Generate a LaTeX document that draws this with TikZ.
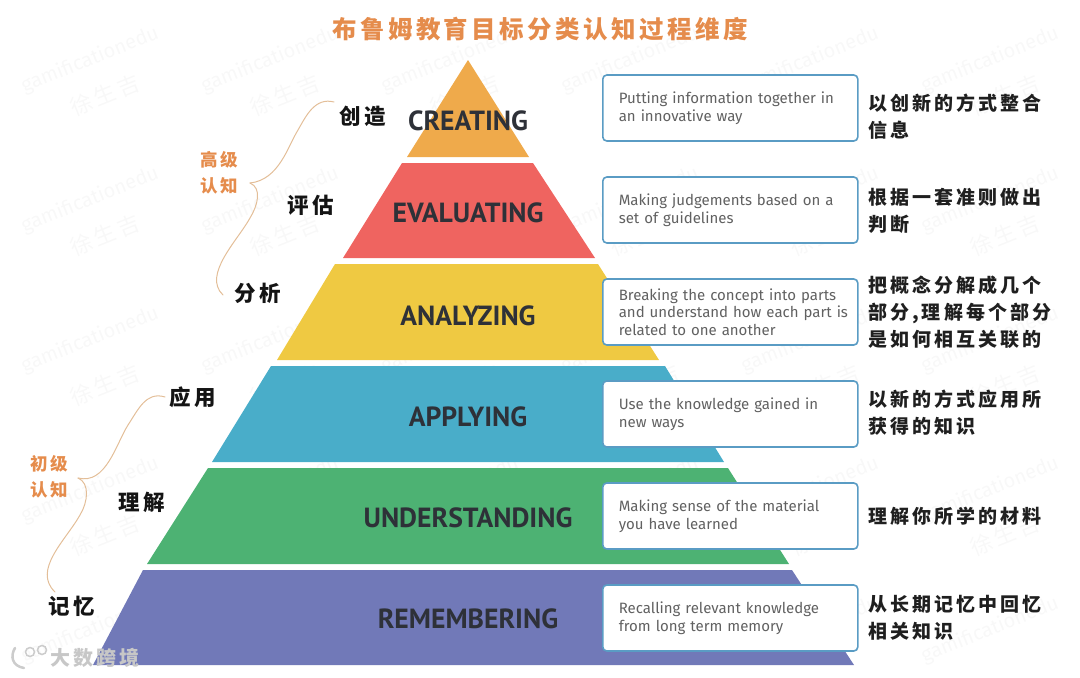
\documentclass[tikz,border=0pt]{standalone}
\usepackage{fontspec}
\setmainfont{Fira Sans}
\newfontfamily\labelfont{PT Sans}
\newfontfamily\cjk[LetterSpace=14]{Noto Sans CJK SC}
\newfontfamily\cjkwide[LetterSpace=16]{Noto Sans CJK SC}
\definecolor{createcol}{HTML}{EFAA4B}
\definecolor{evalcol}{HTML}{EF6460}
\definecolor{analyzecol}{HTML}{EFC942}
\definecolor{applycol}{HTML}{49ADC9}
\definecolor{understandcol}{HTML}{4DB273}
\definecolor{remembercol}{HTML}{7179B8}
\definecolor{titlecol}{HTML}{E58C4C}
\definecolor{bracecol}{HTML}{E3BE98}
\definecolor{edgecol}{HTML}{5A9CC4}
\definecolor{inkcol}{HTML}{2E3138}
\definecolor{markcol}{HTML}{F8F8F8}
\tikzset{
  layerlabel/.style={font=\labelfont\bfseries\fontsize{27.7}{30}\selectfont, text=inkcol},
  infobox/.style={draw=edgecol, line width=1.6pt, fill=white, rounded corners=4pt, anchor=west,
    minimum width=255pt, minimum height=66pt, text width=223pt, inner xsep=16pt, align=left,
    font=\fontsize{15}{17.5}\selectfont, text=black!62},
  gloss/.style={anchor=west, align=left, inner sep=0pt, font=\cjkwide\bfseries\fontsize{19}{27}\selectfont, text=black!88},
  levelname/.style={font=\cjk\bfseries\fontsize{21.5}{26}\selectfont, text=black!92, inner sep=0pt},
  groupname/.style={font=\cjk\bfseries\fontsize{17.5}{26.5}\selectfont, text=titlecol, align=center, inner sep=0pt},
  brace/.style={draw=bracecol, line width=1pt, line cap=round},
  markword/.style={rotate=22, text=markcol, font=\fontsize{20}{22}\selectfont},
  markname/.style={rotate=22, text=markcol, font=\cjk\fontsize{22}{24}\selectfont}
}
\begin{document}
\begin{tikzpicture}[x=1pt, y=-1pt]
  \useasboundingbox (0,0) rectangle (1080,678);

  % Watermark
  \foreach \x in {100,280,...,1000}
    \foreach \y/\z in {60/95, 200/235, 340/385, 490/535, 630/630} {
      \node[markword] at (\x-10,\y) {gamificationedu};
      \ifnum\z=630 \else
        \node[markname] at (\x+5,\z) {徐生吉};
      \fi
    }

  % Title
  \node[font=\cjk\bfseries\fontsize{24.5}{28}\selectfont, text=titlecol] (title) at (540,29) {布鲁姆教育目标分类认知过程维度};

  % Pyramid layers
  \fill[createcol] (468,60) -- (529,157) -- (407,157) -- cycle;
  \fill[evalcol] (402,163) -- (533,163) -- (595,258) -- (343,258) -- cycle;
  \fill[analyzecol] (335,264) -- (598,264) -- (659,360) -- (277,360) -- cycle;
  \fill[applycol] (271,366) -- (665,366) -- (724,462) -- (212,462) -- cycle;
  \fill[understandcol] (208,468) -- (728,468) -- (789,564) -- (147,564) -- cycle;
  \fill[remembercol] (143,570) -- (792,570) -- (854,665) -- (93,665) -- cycle;

  % Layer labels
  \node[layerlabel] (creating) at (468,120.5) {CREATING};
  \node[layerlabel] (evaluating) at (468,212.5) {EVALUATING};
  \node[layerlabel] (analyzing) at (468,315.5) {ANALYZING};
  \node[layerlabel] (applying) at (468,416.5) {APPLYING};
  \node[layerlabel] (understanding) at (468,517.5) {UNDERSTANDING};
  \node[layerlabel] (remembering) at (468,618.5) {REMEMBERING};

  % Description boxes
  \node[infobox] (boxcreate) at (602,108) {Putting information together in\\an innovative way};
  \node[infobox] (boxeval) at (602,210) {Making judgements based on a\\set of guidelines};
  \node[infobox] (boxanalyze) at (602,312) {Breaking the concept into parts\\\leavevmode\rlap{and understand how each part is}\\related to one another};
  \node[infobox] (boxapply) at (602,414) {Use the knowledge gained in\\new ways};
  \node[infobox] (boxunderstand) at (602,516) {Making sense of the material\\you have learned};
  \node[infobox] (boxremember) at (602,618) {Recalling relevant knowledge\\from long term memory};

  % Chinese glosses
  \node[gloss] (glosscreate) at (868,117) {以创新的方式整合\\信息};
  \node[gloss] (glosseval) at (868,211) {根据一套准则做出\\判断};
  \node[gloss] (glossanalyze) at (868,312) {把概念分解成几个\\部分,理解每个部分\\是如何相互关联的};
  \node[gloss] (glossapply) at (868,413) {以新的方式应用所\\获得的知识};
  \node[gloss] (glossunderstand) at (868,516) {理解你所学的材料};
  \node[gloss] (glossremember) at (868,618) {从长期记忆中回忆\\相关知识};

  % Level names
  \node[levelname] (nmcreate) at (363,116) {创造};
  \node[levelname] (nmeval) at (311,205) {评估};
  \node[levelname] (nmanalyze) at (258,293) {分析};
  \node[levelname] (nmapply) at (193,397) {应用};
  \node[levelname] (nmunderstand) at (142,502) {理解};
  \node[levelname] (nmremember) at (72,606) {记忆};

  % Group names
  \node[groupname] (grouphigh) at (219,173) {高级\\认知};
  \node[groupname] (grouplow) at (49,477) {初级\\认知};

  % Braces
  \coordinate (hightip) at (250,183);
  \coordinate (hightop) at (334,102);
  \coordinate (highend) at (223,295);
  \coordinate (lowtip) at (78,478);
  \coordinate (lowtop) at (165,397);
  \coordinate (lowend) at (55,592);
  \draw[brace] (hightop) .. controls (315,97) and (306,116) .. (298,130)
    .. controls (288,146) and (279,180) .. (hightip);
  \draw[brace] (hightip) .. controls (262,188) and (258,205) .. (250,218)
    .. controls (238,240) and (202,275) .. (highend);
  \draw[brace] (lowtop) .. controls (146,391) and (138,410) .. (128,425)
    .. controls (116,444) and (106,485) .. (lowtip);
  \draw[brace] (lowtip) .. controls (90,483) and (88,502) .. (80,515)
    .. controls (66,540) and (32,570) .. (lowend);

  % Logo
  \draw[black!20, line width=2.5pt, line cap=round] (15,648) .. controls (10,656) and (12,666) .. (24,668);
  \draw[black!20, line width=1.5pt] (30,652) circle (4.5) (42,650) circle (4.5);
  \node[font=\cjk\bfseries\fontsize{20}{22}\selectfont, text=black!22] (logo) at (95,658) {大数跨境};
\end{tikzpicture}
\end{document}
